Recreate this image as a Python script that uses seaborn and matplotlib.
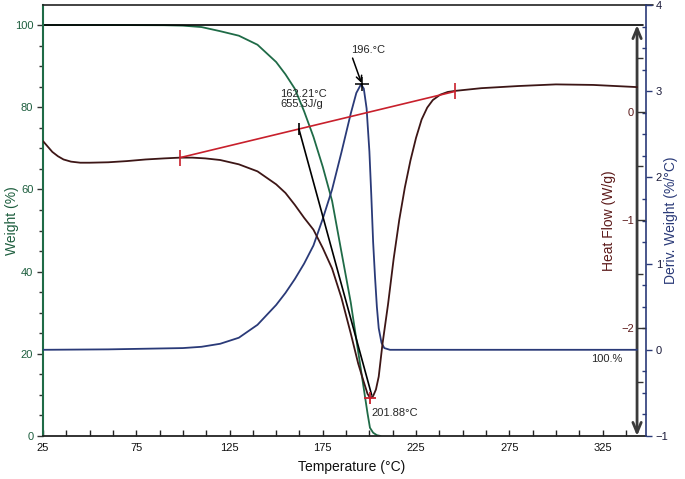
import numpy as np
import pandas as pd
import matplotlib
matplotlib.use("Agg")
import matplotlib.pyplot as plt
import seaborn as sns
from matplotlib.ticker import MultipleLocator, FixedLocator

# ---------------- data ----------------
temp_w = [25, 60, 90, 100, 110, 120, 130, 140, 150, 155, 160, 165, 170, 175, 180,
          185, 190, 195, 197, 199, 200.3, 202, 204, 206]
weight = [100, 100, 99.95, 99.85, 99.5, 98.5, 97.4, 95.2, 91.0, 88.0, 84.5, 79.0, 72.8, 65.5, 57.2,
          44.8, 32.5, 17.5, 11.5, 5.5, 2.0, 0.8, 0.2, 0.0]

temp_h = [25, 27, 30, 33, 36, 40, 45, 50, 60, 70, 80, 90, 98.5, 105, 112, 120, 130, 140,
          150, 155, 160, 165, 170, 175, 180, 185, 190, 194, 197, 199, 200.5, 202, 203.5,
          205, 207, 210, 213, 216, 219, 222, 225, 228, 231, 234, 238, 242, 246, 260, 280,
          300, 320, 343.5]
heat = [-0.27, -0.31, -0.37, -0.41, -0.44, -0.46, -0.47, -0.47, -0.466, -0.455, -0.44, -0.43,
        -0.423, -0.423, -0.43, -0.445, -0.485, -0.55, -0.67, -0.75, -0.86, -0.98, -1.09, -1.26,
        -1.45, -1.72, -2.05, -2.33, -2.50, -2.61, -2.65, -2.63, -2.57, -2.45, -2.15, -1.78,
        -1.36, -1.0, -0.70, -0.45, -0.24, -0.07, 0.04, 0.11, 0.16, 0.185, 0.195, 0.22, 0.24,
        0.255, 0.25, 0.23]

temp_d = [25, 60, 100, 110, 120, 130, 140, 150, 155, 160, 165, 170, 175, 180, 185, 190,
          193, 195.5, 197, 198.5, 200, 201, 202, 203, 204, 205, 206.5, 208, 211, 343.5]
deriv = [0, 0.005, 0.02, 0.035, 0.07, 0.14, 0.29, 0.52, 0.66, 0.82, 1.0, 1.21, 1.52, 1.86,
         2.29, 2.74, 2.98, 3.08, 3.03, 2.80, 2.30, 1.80, 1.25, 0.85, 0.50, 0.25, 0.08, 0.02,
         0, 0]

baseline_T = [98.5, 245.9]
baseline_HF = [-0.423, 0.19]
tangent_T = [162.21, 201.2]
tangent_HF = [-0.158, -2.62]
peak_T, peak_D = 196.0, 3.08
min_T, min_HF = 200.5, -2.65
step_T = [25, 346.7]
step_W = [100, 100]
arrow_T = 343.5

x_ticks = [25, 75, 125, 175, 225, 275, 325]
w_ticks = [0, 20, 40, 60, 80, 100]
d_ticks = [-1, 0, 1, 2, 3, 4]
h_ticks = [-2, -1, 0]

# ---------------- style ----------------
sns.set_theme(style="ticks")
plt.rcParams["font.family"] = ["Liberation Sans", "DejaVu Sans"]

GREEN = "#1f6b47"
GREEN_LBL = "#1d5e3e"
MAROON = "#3d1616"
HF_LBL = "#5c1a1a"
NAVY = "#2a3a78"
RED = "#c8202c"

fig = plt.figure(figsize=(6.85, 4.79), dpi=100)
ax = fig.add_axes([43 / 685, 43 / 479, 603 / 685, 431 / 479])
ax_d = ax.twinx()
ax_h = ax.twinx()

sns.lineplot(x=temp_w, y=weight, ax=ax, color=GREEN, linewidth=1.3)
sns.lineplot(x=temp_d, y=deriv, ax=ax_d, color=NAVY, linewidth=1.3)
sns.lineplot(x=temp_h, y=heat, ax=ax_h, color=MAROON, linewidth=1.3)

ax.set_xlim(25, 348.3)
ax.set_ylim(0, 104.87)
ax_d.set_ylim(-1, 4)
ax_h.set_ylim(-3.0, 0.99)

# baseline, tangent, markers
ax_h.plot(baseline_T, baseline_HF, color=RED, lw=1.2, marker="|", ms=12, mew=1.2)
ax_h.plot(tangent_T, tangent_HF, color="black", lw=1.2)
ax_h.plot([tangent_T[0]], [tangent_HF[0]], color="black", marker="|", ms=9, mew=1.2)
ax_h.plot([min_T], [min_HF], color=RED, marker="+", ms=8, mew=1.3)
ax_d.plot([peak_T], [peak_D], color="black", marker="+", ms=10, mew=1.1)

ax_d.annotate("196.°C", xy=(peak_T, peak_D), xytext=(199.5, 3.48), fontsize=8,
              ha="center", va="center",
              arrowprops=dict(arrowstyle="->,head_length=0.5,head_width=0.25", color="black",
                              lw=1.1, relpos=(0.0, 0.0), shrinkA=0, shrinkB=1))

ax.plot(step_T, step_W, color="black", lw=1.2, clip_on=False)
ax.plot([step_T[0]], [step_W[0]], color="black", marker="|", ms=8, mew=1.2, clip_on=False)
ax.annotate("", xy=(arrow_T, 0), xytext=(arrow_T, 100),
            arrowprops=dict(arrowstyle="<->,head_length=0.6,head_width=0.25",
                            color="#3a3a3a", lw=2.0, shrinkA=0, shrinkB=0))

ax.text(327.4, 18.7, "100.%", fontsize=8, ha="center", va="center")
ax.text(152.1, 82.0, "162.21°C\n655.3J/g", fontsize=8, ha="left", va="center", linespacing=1.1)
ax.text(201.2, 5.6, "201.88°C", fontsize=8, ha="left", va="center")

# ---------------- axes cosmetics ----------------
for a in (ax, ax_d, ax_h):
    for s in a.spines.values():
        s.set_visible(False)

ax.spines["left"].set_visible(True)
ax.spines["left"].set_color(GREEN)
ax.spines["left"].set_linewidth(1.5)
ax.spines["bottom"].set_visible(True)
ax.spines["bottom"].set_color("#222222")
ax.spines["bottom"].set_linewidth(1.3)
ax.spines["top"].set_visible(True)
ax.spines["top"].set_color("#222222")
ax.spines["top"].set_linewidth(1.2)
ax.plot([1.0, 1.0116], [1, 1], transform=ax.transAxes, color="#222222", lw=1.2, clip_on=False)

ax_d.spines["right"].set_visible(True)
ax_d.spines["right"].set_color(NAVY)
ax_d.spines["right"].set_linewidth(1.2)

ax.set_xticks(x_ticks)
ax.xaxis.set_minor_locator(MultipleLocator(12.5))
ax.tick_params(axis="x", which="both", direction="in", length=4, width=1, color="#222222",
               labelsize=8, pad=5, labelcolor="#111111", top=False)
ax.set_yticks(w_ticks)
ax.yaxis.set_minor_locator(MultipleLocator(5))
ax.tick_params(axis="y", which="major", direction="out", length=4, width=1, color="#333333",
               labelsize=8, labelcolor=GREEN_LBL, pad=3)
ax.tick_params(axis="y", which="minor", direction="out", length=3, width=1, color="#333333")

ax_d.set_yticks(d_ticks)
ax_d.yaxis.set_minor_locator(MultipleLocator(0.25))
ax_d.tick_params(axis="y", which="major", direction="out", length=4, width=1, color=NAVY,
                 labelsize=8, labelcolor="#1a1a3a", pad=3)
ax_d.tick_params(axis="y", which="minor", direction="in", length=3, width=1, color=NAVY)

ax_h.yaxis.set_ticks_position("left")
ax_h.yaxis.set_label_position("left")
ax_h.spines["left"].set_position(("axes", (637 - 43) / 603))
ax_h.set_yticks(h_ticks)
ax_h.yaxis.set_minor_locator(FixedLocator([-2.5, -1.5, -0.5, 0.5]))
ax_h.tick_params(axis="y", which="major", direction="in", length=6, width=1, color="#333333",
                 labelsize=8, labelcolor=HF_LBL, pad=2)
ax_h.tick_params(axis="y", which="minor", direction="in", length=4, width=1, color="#333333")

ax.set_xlabel("Temperature (°C)", fontsize=10, color="#111111")
ax.xaxis.set_label_coords(0.512, -0.056)
ax.set_ylabel("Weight (%)", fontsize=10, color=GREEN_LBL)
ax.yaxis.set_label_coords((19 - 43) / 603, 0.5)
ax_h.set_ylabel("Heat Flow (W/g)", fontsize=10, color=HF_LBL)
ax_h.yaxis.set_label_coords((616 - 43) / 603, 0.5)
ax_d.set_ylabel("Deriv. Weight (%/°C)", fontsize=10, color=NAVY)
ax_d.yaxis.set_label_coords((664 - 43) / 603, 0.5)

fig.savefig("out.png", dpi=100, facecolor="white")
